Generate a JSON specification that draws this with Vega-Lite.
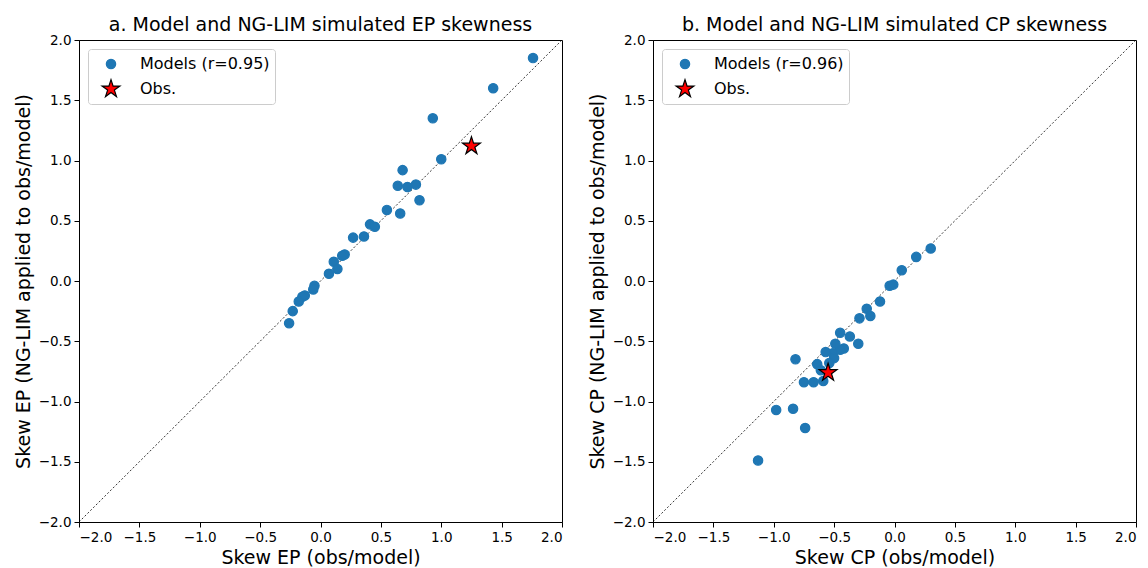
{
  "$schema": "https://vega.github.io/schema/vega-lite/v6.json",
  "padding": {"left": 13, "top": 15, "right": 5, "bottom": 2},
  "spacing": 22,
  "config": {
    "font": "DejaVu Sans",
    "view": {"stroke": "black", "strokeWidth": 1},
    "axis": {"grid": false, "domainColor": "black", "tickColor": "black", "labelColor": "black", "titleColor": "black", "labelFontSize": 13.5, "titleFontSize": 19, "titleFontWeight": "normal", "tickSize": 5, "labelPadding": 3, "titlePadding": 5},
    "title": {"fontSize": 19, "fontWeight": "normal", "color": "black", "offset": -2},
    "legend": {"orient": "top-left", "offset": 9, "fillColor": "white", "strokeColor": "#cccccc", "padding": 5, "cornerRadius": 3, "labelFontSize": 16, "labelColor": "black", "symbolOpacity": 1, "rowPadding": 5, "labelOffset": 19, "symbolOffset": 8, "symbolSize": 350, "symbolStrokeWidth": 1.2}
  },
  "datasets": {
    "ep": [
      {"x": 1.76, "y": 1.85, "series": "Models (r=0.95)"},
      {"x": 1.43, "y": 1.60, "series": "Models (r=0.95)"},
      {"x": 0.93, "y": 1.35, "series": "Models (r=0.95)"},
      {"x": 1.00, "y": 1.01, "series": "Models (r=0.95)"},
      {"x": 0.68, "y": 0.92, "series": "Models (r=0.95)"},
      {"x": 0.64, "y": 0.79, "series": "Models (r=0.95)"},
      {"x": 0.72, "y": 0.78, "series": "Models (r=0.95)"},
      {"x": 0.79, "y": 0.80, "series": "Models (r=0.95)"},
      {"x": 0.82, "y": 0.67, "series": "Models (r=0.95)"},
      {"x": 0.55, "y": 0.59, "series": "Models (r=0.95)"},
      {"x": 0.66, "y": 0.56, "series": "Models (r=0.95)"},
      {"x": 0.41, "y": 0.47, "series": "Models (r=0.95)"},
      {"x": 0.45, "y": 0.45, "series": "Models (r=0.95)"},
      {"x": 0.27, "y": 0.36, "series": "Models (r=0.95)"},
      {"x": 0.36, "y": 0.37, "series": "Models (r=0.95)"},
      {"x": 0.20, "y": 0.22, "series": "Models (r=0.95)"},
      {"x": 0.18, "y": 0.21, "series": "Models (r=0.95)"},
      {"x": 0.11, "y": 0.16, "series": "Models (r=0.95)"},
      {"x": 0.14, "y": 0.10, "series": "Models (r=0.95)"},
      {"x": 0.07, "y": 0.06, "series": "Models (r=0.95)"},
      {"x": -0.05, "y": -0.04, "series": "Models (r=0.95)"},
      {"x": -0.06, "y": -0.07, "series": "Models (r=0.95)"},
      {"x": -0.13, "y": -0.12, "series": "Models (r=0.95)"},
      {"x": -0.15, "y": -0.13, "series": "Models (r=0.95)"},
      {"x": -0.18, "y": -0.17, "series": "Models (r=0.95)"},
      {"x": -0.23, "y": -0.25, "series": "Models (r=0.95)"},
      {"x": -0.26, "y": -0.35, "series": "Models (r=0.95)"},
      {"x": 1.25, "y": 1.12, "series": "Obs."}
    ],
    "cp": [
      {"x": 0.30, "y": 0.27, "series": "Models (r=0.96)"},
      {"x": 0.18, "y": 0.20, "series": "Models (r=0.96)"},
      {"x": 0.06, "y": 0.09, "series": "Models (r=0.96)"},
      {"x": -0.04, "y": -0.04, "series": "Models (r=0.96)"},
      {"x": -0.01, "y": -0.03, "series": "Models (r=0.96)"},
      {"x": -0.12, "y": -0.17, "series": "Models (r=0.96)"},
      {"x": -0.23, "y": -0.23, "series": "Models (r=0.96)"},
      {"x": -0.20, "y": -0.29, "series": "Models (r=0.96)"},
      {"x": -0.29, "y": -0.31, "series": "Models (r=0.96)"},
      {"x": -0.45, "y": -0.43, "series": "Models (r=0.96)"},
      {"x": -0.37, "y": -0.46, "series": "Models (r=0.96)"},
      {"x": -0.30, "y": -0.52, "series": "Models (r=0.96)"},
      {"x": -0.42, "y": -0.56, "series": "Models (r=0.96)"},
      {"x": -0.45, "y": -0.57, "series": "Models (r=0.96)"},
      {"x": -0.49, "y": -0.52, "series": "Models (r=0.96)"},
      {"x": -0.51, "y": -0.60, "series": "Models (r=0.96)"},
      {"x": -0.57, "y": -0.59, "series": "Models (r=0.96)"},
      {"x": -0.50, "y": -0.64, "series": "Models (r=0.96)"},
      {"x": -0.54, "y": -0.68, "series": "Models (r=0.96)"},
      {"x": -0.64, "y": -0.69, "series": "Models (r=0.96)"},
      {"x": -0.61, "y": -0.74, "series": "Models (r=0.96)"},
      {"x": -0.59, "y": -0.83, "series": "Models (r=0.96)"},
      {"x": -0.67, "y": -0.84, "series": "Models (r=0.96)"},
      {"x": -0.75, "y": -0.84, "series": "Models (r=0.96)"},
      {"x": -0.82, "y": -0.65, "series": "Models (r=0.96)"},
      {"x": -0.84, "y": -1.06, "series": "Models (r=0.96)"},
      {"x": -0.98, "y": -1.07, "series": "Models (r=0.96)"},
      {"x": -0.74, "y": -1.22, "series": "Models (r=0.96)"},
      {"x": -1.13, "y": -1.49, "series": "Models (r=0.96)"},
      {"x": -0.55, "y": -0.76, "series": "Obs."}
    ],
    "diag": [{"x": -2, "y": -2}, {"x": 2, "y": 2}]
  },
  "hconcat": [
    {
      "width": 483,
      "height": 482,
      "title": {"text": "a. Model and NG-LIM simulated EP skewness"},
      "layer": [
        {
          "data": {"name": "diag"},
          "mark": {"type": "line", "color": "black", "strokeWidth": 0.8, "strokeDash": [2, 2]},
          "encoding": {
            "x": {"field": "x", "type": "quantitative", "scale": {"domain": [-2, 2], "nice": false}, "axis": {"values": [-2, -1.5, -1, -0.5, 0, 0.5, 1, 1.5, 2], "format": ".1f"}, "title": "Skew EP (obs/model)"},
            "y": {"field": "y", "type": "quantitative", "scale": {"domain": [-2, 2], "nice": false}, "axis": {"values": [-2, -1.5, -1, -0.5, 0, 0.5, 1, 1.5, 2], "format": ".1f"}, "title": "Skew EP (NG-LIM applied to obs/model)"}
          }
        },
        {
          "data": {"name": "ep"},
          "mark": {"type": "point", "filled": true, "opacity": 1, "strokeWidth": 1.2, "size": 350},
          "encoding": {
            "x": {"field": "x", "type": "quantitative"},
            "y": {"field": "y", "type": "quantitative"},
            "color": {"field": "series", "type": "nominal", "scale": {"domain": ["Models (r=0.95)", "Obs."], "range": ["#1f77b4", "#ff0000"]}, "title": null},
            "stroke": {"field": "series", "type": "nominal", "scale": {"domain": ["Models (r=0.95)", "Obs."], "range": ["#1f77b4", "#000000"]}, "title": null},
            "shape": {"field": "series", "type": "nominal", "scale": {"domain": ["Models (r=0.95)", "Obs."], "range": ["M0.5,0A0.5,0.5,0,1,1,-0.5,0A0.5,0.5,0,1,1,0.5,0Z", "M0,-1L0.225,-0.309L0.951,-0.309L0.363,0.118L0.588,0.809L0,0.382L-0.588,0.809L-0.363,0.118L-0.951,-0.309L-0.225,-0.309Z"]}, "title": null}
          }
        }
      ]
    },
    {
      "width": 483,
      "height": 482,
      "title": {"text": "b. Model and NG-LIM simulated CP skewness"},
      "layer": [
        {
          "data": {"name": "diag"},
          "mark": {"type": "line", "color": "black", "strokeWidth": 0.8, "strokeDash": [2, 2]},
          "encoding": {
            "x": {"field": "x", "type": "quantitative", "scale": {"domain": [-2, 2], "nice": false}, "axis": {"values": [-2, -1.5, -1, -0.5, 0, 0.5, 1, 1.5, 2], "format": ".1f"}, "title": "Skew CP (obs/model)"},
            "y": {"field": "y", "type": "quantitative", "scale": {"domain": [-2, 2], "nice": false}, "axis": {"values": [-2, -1.5, -1, -0.5, 0, 0.5, 1, 1.5, 2], "format": ".1f"}, "title": "Skew CP (NG-LIM applied to obs/model)"}
          }
        },
        {
          "data": {"name": "cp"},
          "mark": {"type": "point", "filled": true, "opacity": 1, "strokeWidth": 1.2, "size": 350},
          "encoding": {
            "x": {"field": "x", "type": "quantitative"},
            "y": {"field": "y", "type": "quantitative"},
            "color": {"field": "series", "type": "nominal", "scale": {"domain": ["Models (r=0.96)", "Obs."], "range": ["#1f77b4", "#ff0000"]}, "title": null},
            "stroke": {"field": "series", "type": "nominal", "scale": {"domain": ["Models (r=0.96)", "Obs."], "range": ["#1f77b4", "#000000"]}, "title": null},
            "shape": {"field": "series", "type": "nominal", "scale": {"domain": ["Models (r=0.96)", "Obs."], "range": ["M0.5,0A0.5,0.5,0,1,1,-0.5,0A0.5,0.5,0,1,1,0.5,0Z", "M0,-1L0.225,-0.309L0.951,-0.309L0.363,0.118L0.588,0.809L0,0.382L-0.588,0.809L-0.363,0.118L-0.951,-0.309L-0.225,-0.309Z"]}, "title": null}
          }
        }
      ]
    }
  ],
  "resolve": {"scale": {"color": "independent", "shape": "independent", "stroke": "independent"}}
}
